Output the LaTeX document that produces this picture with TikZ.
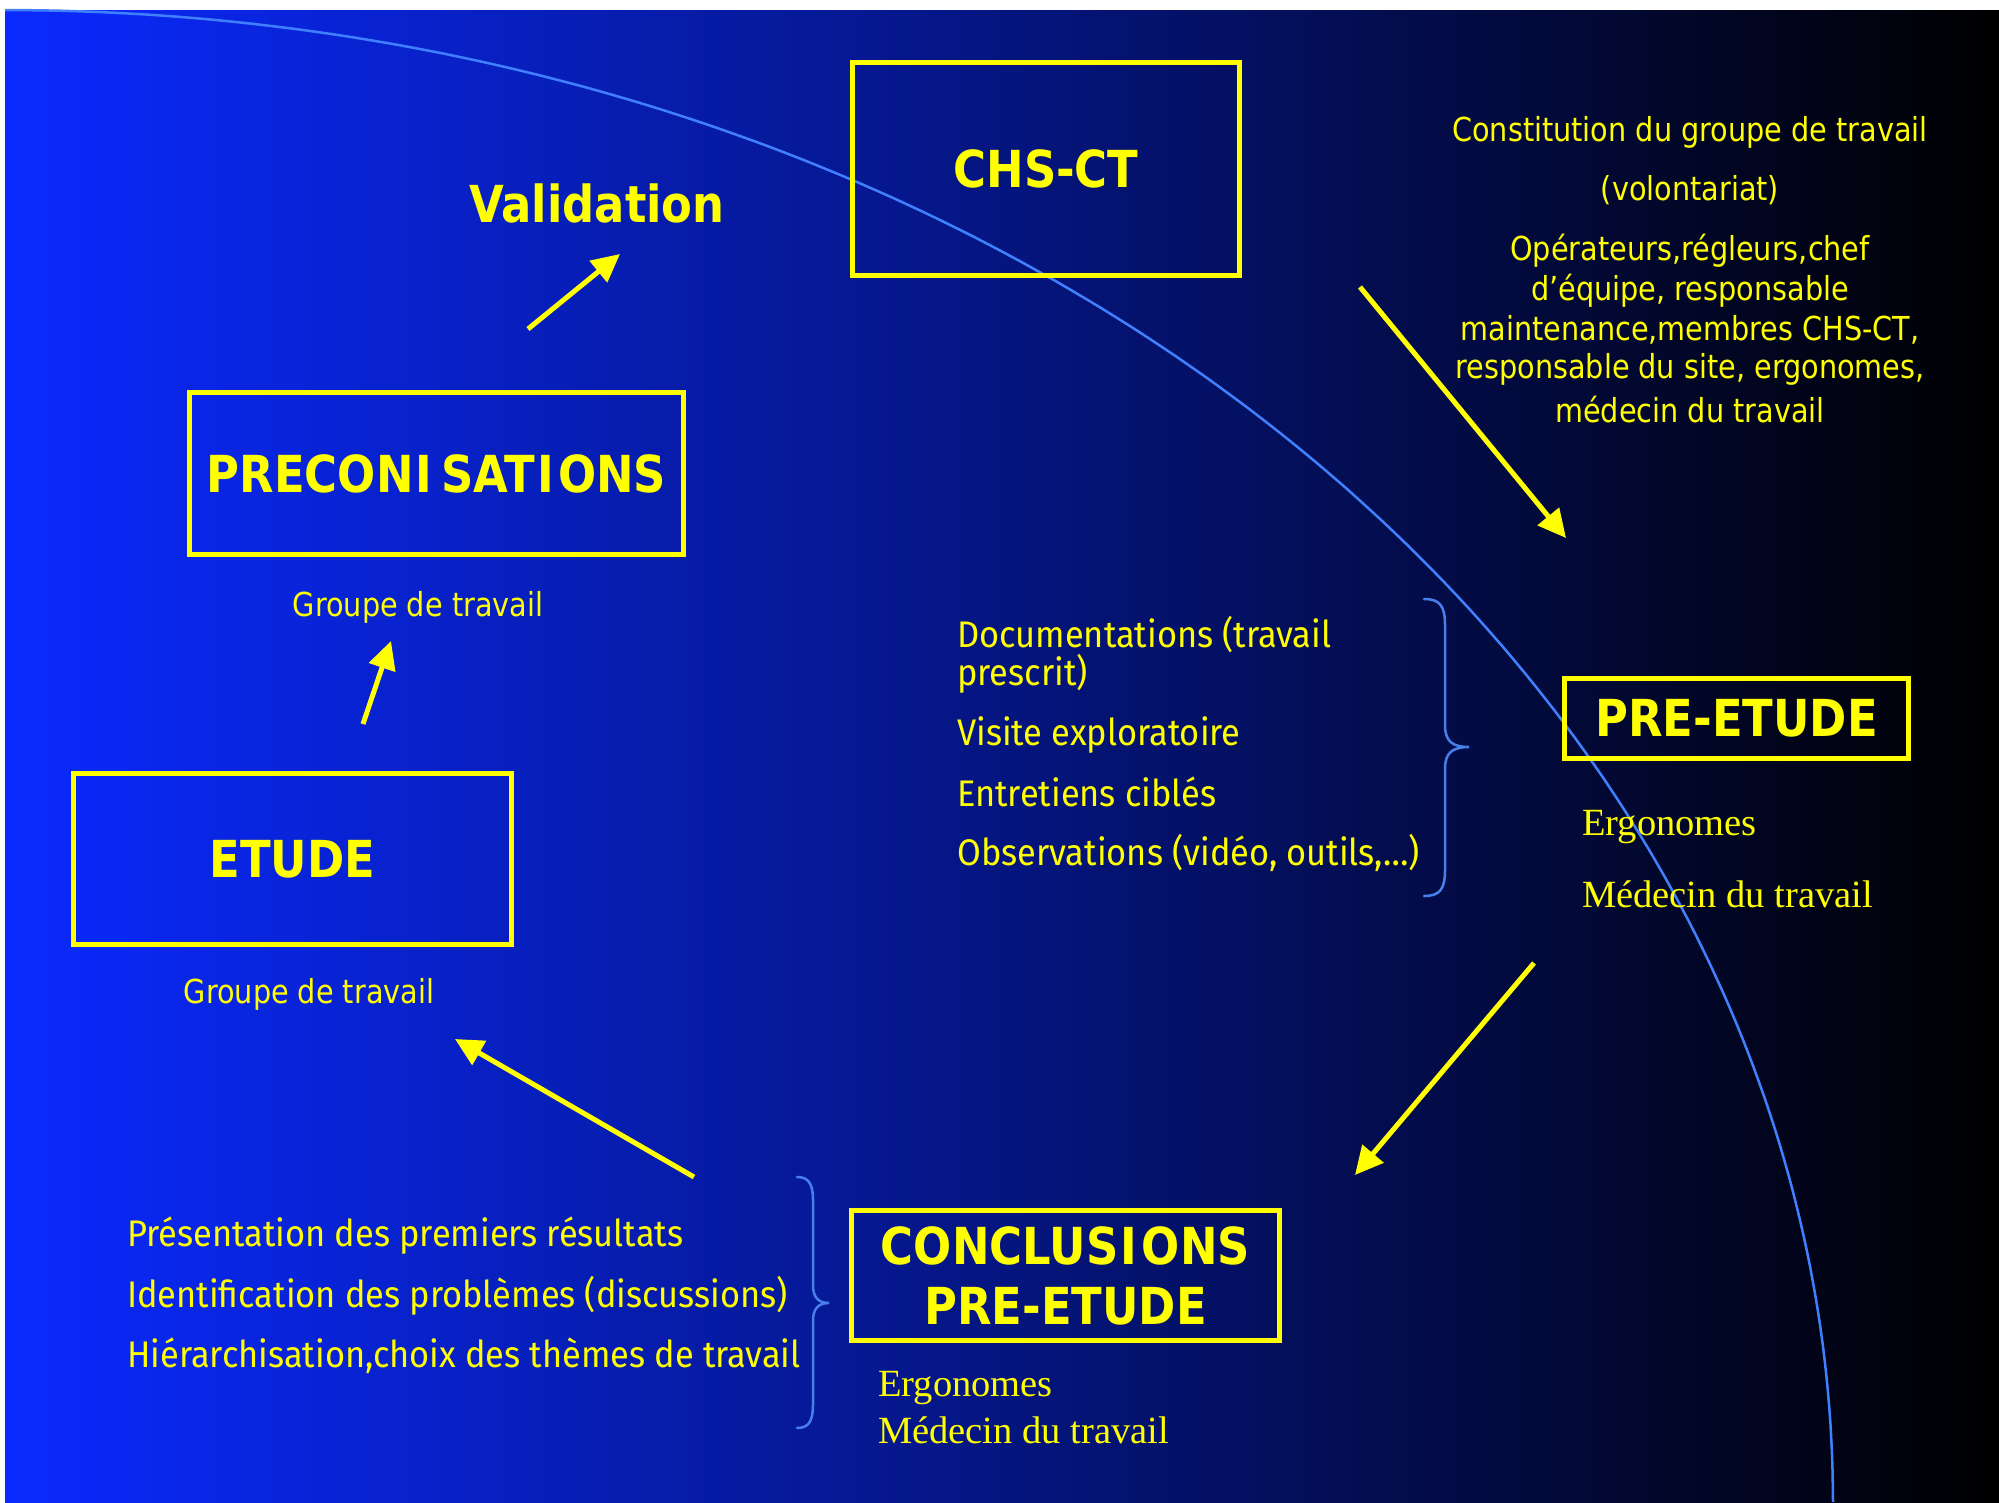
\documentclass[tikz,border=0pt]{standalone}
\usepackage{fontspec}
\usetikzlibrary{arrows.meta}
\newfontfamily\tahfont[FakeStretch=0.88]{DejaVu Sans}
\newfontfamily\tahreg[FakeStretch=0.87]{DejaVu Sans}
\newfontfamily\comicf[FakeStretch=0.93]{Fira Sans}
\newfontfamily\timesf{Liberation Serif}
\definecolor{ylw}{RGB}{255,255,0}
\definecolor{arcblue}{RGB}{64,128,255}
\definecolor{braceblue}{RGB}{72,128,235}
\definecolor{bgleft}{RGB}{10,42,255}
\definecolor{bgmid}{RGB}{5,26,150}
\tikzset{
  ybox/.style={draw=ylw, line width=5.5pt, text=ylw, inner sep=0pt,
    font=\tahfont\bfseries\fontsize{51}{60}\selectfont, align=center},
  bigword/.style={text=ylw, inner sep=0pt, font=\tahfont\bfseries\fontsize{51}{60}\selectfont},
  regtxt/.style={text=ylw, inner sep=0pt, font=\tahreg\fontsize{33}{40}\selectfont},
  comictxt/.style={text=ylw, inner sep=0pt, anchor=west, font=\comicf\fontsize{37}{44}\selectfont},
  seriftxt/.style={text=ylw, inner sep=0pt, anchor=west, font=\timesf\fontsize{38.5}{46}\selectfont},
  yarrow/.style={draw=ylw, line width=5pt, -{Triangle[length=28pt,width=27pt]}},
  bracepath/.style={draw=braceblue, line width=2.5pt, line cap=round}
}
\begin{document}
\begin{tikzpicture}[x=1pt, y=-1pt]
\useasboundingbox (0,0) rectangle (1999,1502);
\fill[white] (0,0) rectangle (1999,1502);
\shade[left color=bgleft, middle color=bgmid, right color=black] (5,10) rectangle (1999,1502);
% arc
\draw[arcblue, line width=2.5pt] plot[domain=0:90, samples=150] ({5+1828*cos(\x)},{1502-1492*sin(\x)});
% boxes
\node[ybox, minimum width=387pt, minimum height=213pt] (chsct) at (1046,169) {CHS-CT};
\node[ybox, minimum width=494pt, minimum height=162pt] (precon) at (436.5,473.5) {PRECON\kern2pt I\kern9pt SAT\kern2pt I\kern4pt ONS};
\node[ybox, minimum width=438pt, minimum height=171pt] (etude) at (292.5,859) {ETUDE};
\node[ybox, minimum width=344pt, minimum height=80pt] (preetude) at (1736.5,718.5) {PRE-ETUDE};
\node[ybox, minimum width=428pt, minimum height=130pt] (concl) at (1065.5,1275.5) {CONCLUS\kern2pt I\kern5pt ONS\\PRE-ETUDE};
% Validation
\node[bigword] (valid) at (597,203) {Validation};
% labels
\node[regtxt] (grp1) at (418,607) {Groupe de travail};
\node[regtxt] (grp2) at (309,994) {Groupe de travail};
\node[regtxt] (t1) at (1690,132) {Constitution du groupe de travail};
\node[regtxt] (t2) at (1690,190) {(volontariat)};
\node[regtxt] (t3) at (1690,251) {Opérateurs,régleurs,chef};
\node[regtxt] (t4) at (1690,291) {d’équipe, responsable};
\node[regtxt] (t5) at (1690,330) {maintenance,membres CHS-CT,};
\node[regtxt] (t6) at (1690,369) {responsable du site, ergonomes,};
\node[regtxt] (t7) at (1690,410) {médecin du travail};
% comic list middle
\node[comictxt] (m1) at (957,635) {Documentations (travail};
\node[comictxt] (m2) at (957,674) {prescrit)};
\node[comictxt] (m3) at (957,735) {Visite exploratoire};
\node[comictxt] (m4) at (957,792) {Entretiens ciblés};
\node[comictxt] (m5) at (957,853) {Observations (vidéo, outils,…)};
% comic list bottom
\node[comictxt] (b1) at (127,1236) {Présentation des premiers résultats};
\node[comictxt] (b2) at (127,1296) {Identification des problèmes (discussions)};
\node[comictxt] (b3) at (127,1356) {Hiérarchisation,choix des thèmes de travail};
% serif labels
\node[seriftxt] (e1) at (1582,827) {Ergonomes};
\node[seriftxt] (e2) at (1582,894) {Médecin du travail};
\node[seriftxt] (e3) at (878,1388) {Ergonomes};
\node[seriftxt] (e4) at (878,1430) {Médecin du travail};
% braces
\draw[bracepath] (1424,599) .. controls (1440,599) and (1445,606) .. (1445,625) -- (1445,725) .. controls (1445,741) and (1452,747) .. (1469,747) .. controls (1452,747) and (1445,753) .. (1445,769) -- (1445,870) .. controls (1445,889) and (1440,896) .. (1424,896);
\draw[bracepath] (797,1177) .. controls (808,1177) and (813,1183) .. (813,1200) -- (813,1285) .. controls (813,1297) and (818,1303) .. (829,1303) .. controls (818,1303) and (813,1309) .. (813,1321) -- (813,1405) .. controls (813,1422) and (808,1428) .. (797,1428);
% arrow end points
\coordinate (a1s) at (528,329); \coordinate (a1e) at (620,254);
\coordinate (a2s) at (363,724); \coordinate (a2e) at (391,641);
\coordinate (a3s) at (1360,287); \coordinate (a3e) at (1566,538);
\coordinate (a4s) at (1534,963); \coordinate (a4e) at (1355,1175);
\coordinate (a5s) at (694,1177); \coordinate (a5e) at (455,1039);
\draw[yarrow] (a1s) -- (a1e);
\draw[yarrow] (a2s) -- (a2e);
\draw[yarrow] (a3s) -- (a3e);
\draw[yarrow] (a4s) -- (a4e);
\draw[yarrow] (a5s) -- (a5e);
\end{tikzpicture}
\end{document}
